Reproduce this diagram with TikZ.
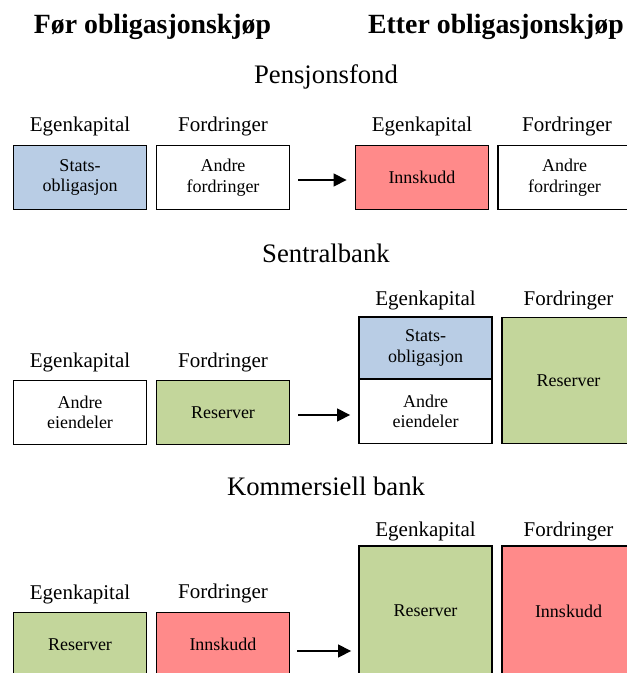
\documentclass[tikz,border=0pt]{standalone}
\usepackage{fontspec}
\setmainfont{Liberation Serif}
\usetikzlibrary{arrows.meta}
\definecolor{cblue}{HTML}{B9CDE5}
\definecolor{cred}{HTML}{FF8A8A}
\definecolor{cgreen}{HTML}{C3D69B}
\begin{document}
\begin{tikzpicture}[x=1pt,y=-1pt,
  box/.style={draw=black,line width=1.8pt,minimum width=133pt,minimum height=64pt,inner sep=0pt,align=center,font=\fontsize{18}{20.5}\selectfont},
  lbl/.style={anchor=base,inner sep=0pt,font=\fontsize{21}{24}\selectfont},
  ttl/.style={anchor=base,inner sep=0pt,font=\fontsize{26.7}{30}\selectfont},
  hdr/.style={anchor=base,inner sep=0pt,font=\fontsize{27.8}{30}\selectfont\bfseries},
  arr/.style={-{Triangle[length=13pt,width=13pt]},line width=1.3pt}]
\useasboundingbox (0,0) rectangle (627,673);
\clip (0,0) rectangle (627,673);
% headers
\node[hdr] (h1) at (152.5,33) {Før obligasjonskjøp};
\node[hdr] (h2) at (496,33) {Etter obligasjonskjøp};
% ---- Pensjonsfond
\node[ttl] (t1) at (326,83) {Pensjonsfond};
\node[lbl] (l11) at (80,131) {Egenkapital};
\node[lbl] (l12) at (223,131) {Fordringer};
\node[lbl] (l13) at (422,131) {Egenkapital};
\node[lbl] (l14) at (567,131) {Fordringer};
\node[box,fill=cblue] (a1) at (80,177.5) {Stats-\\obligasjon};
\node[box,fill=white] (a2) at (223,177.5) {Andre\\fordringer};
\node[box,fill=cred] (a3) at (422,177.5) {Innskudd};
\node[box,fill=white] (a4) at (564.5,177.5) {Andre\\fordringer};
\draw[arr] ([xshift=8pt,yshift=-2.5pt]a2.east) -- ([xshift=-8pt,yshift=-2.5pt]a3.west);
% ---- Sentralbank
\node[ttl] (t2) at (326,262) {Sentralbank};
\node[lbl] (l21) at (80,367) {Egenkapital};
\node[lbl] (l22) at (223,367) {Fordringer};
\node[lbl] (l23) at (425.5,305) {Egenkapital};
\node[lbl] (l24) at (568.5,305) {Fordringer};
\node[box,fill=white] (b1) at (80,412.5) {Andre\\eiendeler};
\node[box,fill=cgreen] (b2) at (223,412.5) {Reserver};
\node[box,fill=cblue,minimum height=62pt] (b3) at (425.5,348) {Stats-\\obligasjon};
\node[box,fill=white,minimum height=64pt] (b4) at (425.5,411.5) {Andre\\eiendeler};
\node[box,fill=cgreen,minimum height=126pt] (b5) at (568.5,380.5) {Reserver};
\draw[arr] ([xshift=8pt,yshift=-2.5pt]b2.east) -- ([xshift=-8pt,yshift=-2.5pt]b2.east -| b4.west);
% ---- Kommersiell bank
\node[ttl] (t3) at (326,495) {Kommersiell bank};
\node[lbl] (l31) at (80,599) {Egenkapital};
\node[lbl] (l32) at (223,598) {Fordringer};
\node[lbl] (l33) at (425.5,536) {Egenkapital};
\node[lbl] (l34) at (568.5,536) {Fordringer};
\node[box,fill=cgreen] (c1) at (80,644.5) {Reserver};
\node[box,fill=cred] (c2) at (223,644.5) {Innskudd};
\node[box,fill=cgreen,minimum height=130pt] (c3) at (425.5,611) {Reserver};
\node[box,fill=cred,minimum height=130pt] (c4) at (568.5,611) {Innskudd};
\draw[arr] ([xshift=7pt,yshift=-6.5pt]c2.east) -- ([xshift=-7pt,yshift=-6.5pt]c2.east -| c3.west);
\end{tikzpicture}
\end{document}
